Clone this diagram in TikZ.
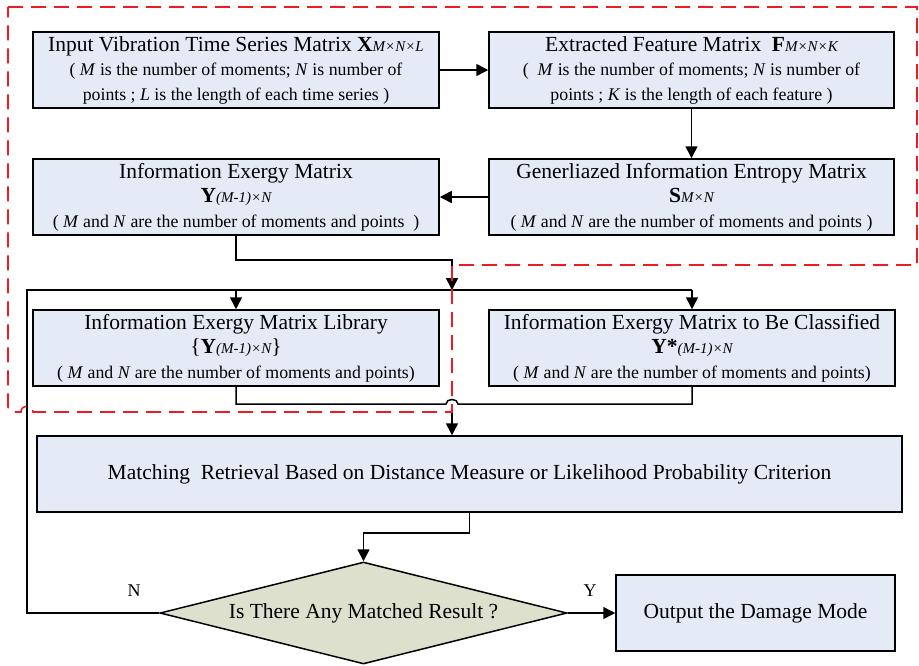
\documentclass[tikz,border=0pt]{standalone}
\usepackage{fontspec}
\setmainfont{Liberation Serif}
\usetikzlibrary{arrows.meta,shapes.geometric}
\definecolor{boxfill}{RGB}{229,235,246}
\definecolor{dfill}{RGB}{221,224,204}
\definecolor{dred}{RGB}{236,28,36}
\newcommand{\ttl}{\fontsize{21.5}{24.5}\selectfont}
\newcommand{\sbs}[1]{{\fontsize{15}{24.5}\selectfont\itshape #1}}
\begin{document}
\begin{tikzpicture}[x=1pt,y=-1pt,
  stepbox/.style={draw=black, line width=1.5pt, fill=boxfill, minimum height=76pt,
    inner sep=1pt, align=center, font=\fontsize{17.8}{24.5}\selectfont},
  decbox/.style={shape=diamond, aspect=4, draw=black, line width=1.5pt, fill=dfill,
    minimum width=407pt, minimum height=102pt, inner sep=0pt,
    font=\fontsize{21.5}{24}\selectfont},
  conn/.style={line width=1.5pt, draw=black},
  arr/.style={conn, -{Triangle[length=12pt,width=12pt]}},
  reddash/.style={draw=dred, line width=1.6pt, dash pattern=on 15pt off 8pt},
  lbl/.style={font=\fontsize{18}{20}\selectfont, inner sep=0pt, anchor=base}]
\useasboundingbox (0,0) rectangle (919,665);

\node[stepbox, minimum width=406pt] (A) at (236,70)
  {{\ttl Input Vibration Time Series Matrix \textbf{X}\sbs{M×N×L}}\\
   ( \textit{M} is the number of moments; \textit{N} is number of\\
   points ; \textit{L} is the length of each time series )};
\node[stepbox, minimum width=405pt] (B) at (691.5,70)
  {{\ttl Extracted Feature Matrix\ \ \textbf{F}\sbs{M×N×K}}\\
   (\ \ \textit{M} is the number of moments; \textit{N} is number of\\
   points ; \textit{K} is the length of each feature )};
\node[stepbox, minimum width=406pt] (C) at (236,197)
  {{\ttl Information Exergy Matrix}\\
   {\ttl \textbf{Y}\sbs{(M-1)×N}}\\
   ( \textit{M} and \textit{N} are the number of moments and points\ \ )};
\node[stepbox, minimum width=405pt] (D) at (691.5,197)
  {{\ttl Generliazed Information Entropy Matrix}\\
   {\ttl \textbf{S}\sbs{M×N}}\\
   ( \textit{M} and \textit{N} are the number of moments and points )};
\node[stepbox, minimum width=406pt] (E) at (236,348)
  {{\ttl Information Exergy Matrix Library}\\
   {\ttl \{\textbf{Y}\sbs{(M-1)×N}\}}\\
   ( \textit{M} and \textit{N} are the number of moments and points)};
\node[stepbox, minimum width=406pt] (F) at (692,348)
  {{\ttl Information Exergy Matrix to Be Classified}\\
   {\ttl \textbf{Y*}\sbs{(M-1)×N}}\\
   ( \textit{M} and \textit{N} are the number of moments and points)};
\node[stepbox, minimum width=865pt, font=\fontsize{21.5}{24}\selectfont] (G) at (469.5,474)
  {Matching\ \ Retrieval Based on Distance Measure or Likelihood Probability Criterion};
\node[decbox] (Q) at (363.5,613) {Is There Any Matched Result ?};
\node[stepbox, minimum width=279pt, font=\fontsize{21.5}{24}\selectfont] (H) at (755.5,613)
  {Output the Damage Mode};

\coordinate (t1) at (452,260);
\coordinate (j1) at (452,290);
\coordinate (fb) at (27,290);
\coordinate (fbR) at (692,290);
\coordinate (m1) at (452,404);

\draw[arr] (A) -- (B);
\draw[arr] (B) -- (D);
\draw[arr] (D) -- (C);
\draw[arr] (C.south) |- (t1) -- (j1);
\draw[conn] (Q.west) -| (fb) -- (fbR);
\draw[arr] (E.north |- fb) -- (E.north);
\draw[arr] (fbR) -- (F.north);
\draw[conn] (E.south) |- (446,404) .. controls (446,398) and (458,398) .. (458,404) -| (F.south);
\draw[arr] (m1) -- (m1 |- G.north);
\draw[arr] (G.south) -- ++(0,20) -| (Q.north);
\draw[arr] (Q.east) -- (H.west);

\node[lbl] (lN) at (134,596) {N};
\node[lbl] (lY) at (590,596) {Y};

\draw[reddash] (8,7) -- (917,7) -- (917,265) -- (452,265) -- (452,412) -- (33,412)
  .. controls (33,404) and (21,404) .. (21,412)
  [rounded corners=5pt] -- (8,412) -- (8,300) [sharp corners] -- (8,7);
\end{tikzpicture}
\end{document}
